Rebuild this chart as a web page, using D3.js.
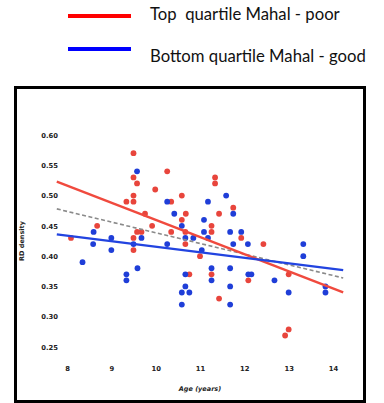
<!DOCTYPE html>
<html>
<head>
<meta charset="utf-8">
<script src="https://cdn.jsdelivr.net/npm/d3@7/dist/d3.min.js"></script>
<style>
  html, body { margin: 0; padding: 0; background: #fff; }
  svg { display: block; }
  .legend-label { white-space: pre; }
</style>
</head>
<body>
<svg id="chart" width="384" height="403"></svg>
<script>
// Top quartile (poor) group: age in years, RD density
const redAges = [8.09, 8.68, 9.34, 9.50, 9.50, 9.58, 9.50, 9.50, 9.50, 9.50,
  9.58, 9.68, 9.76, 9.92, 9.99, 10.26, 10.35, 10.35, 10.59, 10.59,
  10.68, 10.67, 10.67, 10.76, 11.00, 11.26, 11.26, 11.26, 11.34, 11.34,
  11.43, 11.43, 11.75, 11.93, 12.09, 12.43, 13.00, 13.00, 12.92];
const redValues = [0.430, 0.450, 0.490, 0.570, 0.530, 0.520, 0.500, 0.490, 0.430, 0.410,
  0.440, 0.440, 0.470, 0.450, 0.510, 0.540, 0.490, 0.440, 0.500, 0.460,
  0.470, 0.440, 0.420, 0.370, 0.400, 0.450, 0.440, 0.370, 0.530, 0.520,
  0.470, 0.330, 0.480, 0.430, 0.360, 0.420, 0.370, 0.279, 0.269];

// Bottom quartile (good) group
const blueAges = [8.35, 8.59, 8.60, 9.00, 9.00, 9.34, 9.34, 9.50, 9.58, 9.59,
  9.68, 10.26, 10.26, 10.42, 10.59, 10.59, 10.59, 10.67, 10.67, 10.67,
  10.76, 10.85, 11.04, 11.09, 11.09, 11.18, 11.18, 11.26, 11.26, 11.59,
  11.68, 11.68, 11.68, 11.68, 11.75, 11.75, 11.93, 12.08, 12.09, 12.16,
  12.68, 13.00, 13.33, 13.33, 13.83, 13.83];
const blueValues = [0.390, 0.420, 0.440, 0.430, 0.410, 0.370, 0.360, 0.420, 0.540, 0.380,
  0.430, 0.490, 0.420, 0.470, 0.450, 0.340, 0.320, 0.430, 0.370, 0.350,
  0.340, 0.430, 0.410, 0.460, 0.440, 0.490, 0.430, 0.380, 0.360, 0.500,
  0.440, 0.380, 0.350, 0.320, 0.470, 0.420, 0.440, 0.420, 0.370, 0.370,
  0.360, 0.340, 0.420, 0.400, 0.350, 0.340];

// Fitted trend lines (end points)
const fitAges = [7.77, 14.23];
const redFit = [0.523, 0.340];
const blueFit = [0.436, 0.377];
const allFit = [0.478, 0.364];

const xTicks = [8, 9, 10, 11, 12, 13, 14];
const yTicks = [0.25, 0.30, 0.35, 0.40, 0.45, 0.50, 0.55, 0.60];

const legendLabels = ["Top  quartile Mahal - poor", "Bottom quartile Mahal - good"];

const svg = d3.select("#chart");

const x = d3.scaleLinear().domain([8, 14]).range([67, 333]);
const y = d3.scaleLinear().domain([0.25, 0.60]).range([347, 135]);

// Legend
const legendColors = ["#ff0000", "#0000ff"];
const legendY = [16, 49];
const legendTextY = [20, 62];
legendLabels.forEach((label, i) => {
  svg.append("line")
    .attr("x1", 68).attr("x2", 131)
    .attr("y1", legendY[i]).attr("y2", legendY[i])
    .attr("stroke", legendColors[i]).attr("stroke-width", 4);
  svg.append("text")
    .attr("class", "legend-label")
    .attr("x", 150).attr("y", legendTextY[i])
    .attr("font-family", "Lato, 'Noto Sans', sans-serif")
    .attr("font-size", 16.7)
    .attr("fill", "#111")
    .text(label);
});

// Frame
svg.append("rect")
  .attr("x", 15.5).attr("y", 87.5)
  .attr("width", 349).attr("height", 314)
  .attr("fill", "none").attr("stroke", "#000").attr("stroke-width", 3);

// Axes (labels only)
const tickFont = "'DejaVu Sans', sans-serif";
const yAxis = svg.append("g")
  .attr("transform", "translate(58,0)")
  .call(d3.axisLeft(y).tickValues(yTicks).tickSize(0).tickPadding(0).tickFormat(d3.format(".2f")));
yAxis.select(".domain").remove();
yAxis.selectAll("text")
  .attr("font-family", tickFont).attr("font-size", 6.8).attr("font-weight", "bold")
  .attr("fill", "#222");

const xAxis = svg.append("g")
  .attr("transform", "translate(0,366)")
  .call(d3.axisBottom(x).tickValues(xTicks).tickSize(0).tickPadding(0).tickFormat(d3.format("d")));
xAxis.select(".domain").remove();
xAxis.selectAll("text")
  .attr("font-family", tickFont).attr("font-size", 6.8).attr("font-weight", "bold")
  .attr("fill", "#222");

svg.append("text")
  .attr("x", 200).attr("y", 391)
  .attr("text-anchor", "middle")
  .attr("font-family", tickFont).attr("font-size", 6.5).attr("font-weight", "bold")
  .attr("font-style", "italic")
  .attr("fill", "#222")
  .text("Age (years)");

svg.append("text")
  .attr("transform", "translate(24,241) rotate(-90)")
  .attr("text-anchor", "middle")
  .attr("font-family", tickFont).attr("font-size", 6.5).attr("font-weight", "bold")
  .attr("fill", "#222")
  .text("RD density");

// Points
const redPts = redAges.map((a, i) => [a, redValues[i]]);
const bluePts = blueAges.map((a, i) => [a, blueValues[i]]);

svg.append("g").selectAll("circle").data(redPts).join("circle")
  .attr("cx", d => x(d[0])).attr("cy", d => y(d[1])).attr("r", 2.9)
  .attr("fill", "#e8453c");
svg.append("g").selectAll("circle").data(bluePts).join("circle")
  .attr("cx", d => x(d[0])).attr("cy", d => y(d[1])).attr("r", 2.9)
  .attr("fill", "#1f3ed8");

// Trend lines
const line = d3.line().x(d => x(d[0])).y(d => y(d[1]));
const mk = vals => fitAges.map((a, i) => [a, vals[i]]);

svg.append("path").datum(mk(allFit)).attr("d", line)
  .attr("fill", "none").attr("stroke", "#8a8a8a").attr("stroke-width", 1.6)
  .attr("stroke-dasharray", "4,2.5");
svg.append("path").datum(mk(redFit)).attr("d", line)
  .attr("fill", "none").attr("stroke", "#f04a3e").attr("stroke-width", 2.4);
svg.append("path").datum(mk(blueFit)).attr("d", line)
  .attr("fill", "none").attr("stroke", "#2244e0").attr("stroke-width", 2.4);
</script>
</body>
</html>
